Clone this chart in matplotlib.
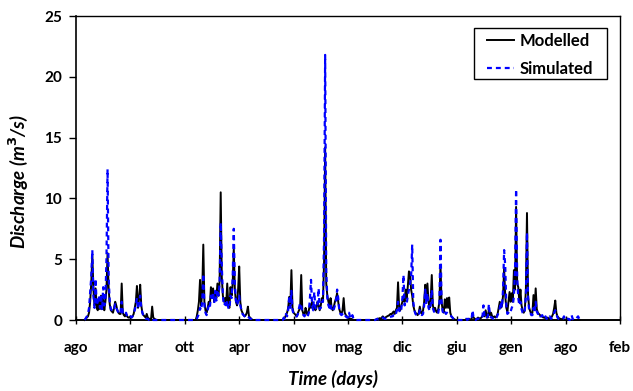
import numpy as np
import matplotlib
matplotlib.use("Agg")
import matplotlib.pyplot as plt
from matplotlib.patches import Rectangle

# x axis: days since start of record, one label every 200 days
tick_days = [0, 200, 400, 600, 800, 1000, 1200, 1400, 1600, 1800, 2000]
tick_labels = ["ago", "mar", "ott", "apr", "nov", "mag", "dic", "giu", "gen", "ago", "feb"]
y_ticks = [0, 5, 10, 15, 20, 25]

# discharge (m3/s) sampled every 4 days through each wet season;
# flow is zero between the seasons
sample_step = 4
season_starts = [32, 440, 760, 1100, 1430]

modelled_s1 = [0, 0.1, 0.2, 0.3, 0.6, 1.5, 3.0, 5.35, 2.5, 1.2, 2.6, 1.0, 0.8, 1.8, 0.9, 2.0, 1.0,
               1.8, 0.8, 1.5, 2.5, 5.5, 2.6, 1.3, 0.8, 0.7, 0.6, 1.0, 1.5, 1.2, 0.8, 0.6, 0.5, 0.5,
               3.0, 0.6, 0.4, 0.3, 0.5, 0.3, 0.2, 0.2, 0.3, 0.2, 0.3, 0.5, 1.0, 1.5, 2.8, 1.0, 1.8,
               2.9, 1.2, 0.6, 0.4, 0.3, 0.2, 0.5, 0.2, 0.1, 0.1, 0.1, 1.1, 0.2, 0.1, 0.05, 0.0]
simulated_s1 = [0, 0.15, 0.3, 0.5, 1.0, 2.2, 3.5, 5.75, 2.0, 1.0, 3.4, 1.2, 1.5, 2.0, 1.0, 2.1, 0.8,
                2.7, 1.2, 1.6, 5.0, 12.4, 3.5, 1.5, 0.9, 0.8, 0.7, 0.9, 1.3, 1.0, 0.8, 0.6, 0.6, 0.5,
                1.5, 0.6, 0.5, 0.4, 0.6, 0.3, 0.4, 0.3, 0.3, 0.2, 0.3, 0.6, 0.8, 1.2, 1.8, 0.9, 1.5,
                2.0, 1.0, 0.6, 0.3, 0.2, 0.1, 0.1, 0.1, 0.0, 0.0, 0.0, 0.1, 0.0, 0.0, 0.0, 0.0]

modelled_s2 = [0.0, 0.3, 0.8, 1.5, 3.3, 1.2, 2.3, 6.2, 1.5, 0.8, 0.6, 1.0, 1.5, 1.2, 2.7, 1.8, 2.6,
               1.5, 2.2, 1.8, 3.0, 2.0, 3.2, 10.5, 3.5, 2.0, 1.5, 1.8, 1.2, 3.0, 1.3, 1.0, 2.7, 2.0,
               3.0, 5.9, 2.5, 1.5, 1.2, 2.5, 4.4, 1.5, 0.8, 0.6, 0.4, 0.3, 0.4, 0.6, 1.1, 0.3, 0.2,
               0.1, 0.0]
simulated_s2 = [0.0, 0.1, 0.3, 0.5, 1.0, 0.8, 1.5, 3.8, 1.2, 0.6, 0.4, 0.8, 1.2, 1.0, 2.0, 1.6, 2.3,
                1.4, 2.4, 1.6, 2.5, 2.0, 3.0, 8.0, 4.5, 2.0, 1.2, 1.4, 1.0, 1.6, 1.0, 0.9, 2.0, 1.8,
                3.5, 7.5, 3.0, 1.6, 1.2, 1.5, 2.0, 1.2, 0.8, 0.5, 0.4, 0.3, 0.2, 0.2, 0.3, 0.2, 0.1,
                0.1, 0.0]

modelled_s3 = [0.0, 0.1, 0.2, 0.4, 0.6, 1.0, 1.9, 1.2, 4.1, 1.0, 0.6, 0.5, 0.4, 0.3, 0.6, 0.8, 1.0,
               3.7, 0.8, 0.5, 0.4, 1.0, 0.6, 0.4, 0.8, 1.3, 1.0, 1.5, 1.0, 1.2, 0.8, 1.0, 1.5, 1.2,
               0.8, 1.2, 1.8, 1.5, 4.8, 14.2, 3.0, 2.0, 1.5, 1.2, 1.8, 1.0, 0.8, 1.1, 1.5, 1.8, 2.2,
               1.5, 0.9, 0.6, 0.5, 0.8, 1.8, 0.6, 0.4, 0.3, 0.2, 0.1, 0.1, 0.1, 0.05, 0.0, 0.0]
simulated_s3 = [0.0, 0.2, 0.1, 0.5, 0.3, 0.8, 2.0, 1.0, 2.4, 0.8, 0.5, 0.4, 0.3, 0.3, 0.5, 1.0, 1.4,
                1.2, 0.6, 0.4, 0.3, 0.5, 0.4, 0.3, 0.6, 1.8, 3.3, 1.2, 0.8, 2.3, 1.0, 0.9, 1.2, 2.6,
                0.9, 1.0, 1.5, 1.5, 6.8, 21.8, 4.0, 1.8, 1.2, 1.0, 1.3, 0.8, 0.7, 0.9, 1.2, 1.6, 2.5,
                1.8, 0.8, 0.5, 0.4, 0.5, 0.6, 0.4, 0.3, 0.2, 0.2, 0.6, 0.2, 0.1, 0.4, 0.1, 0.0]

modelled_s4 = [0.0, 0.05, 0.1, 0.1, 0.15, 0.1, 0.2, 0.3, 0.2, 0.15, 0.25, 0.3, 0.35, 0.4, 0.5, 0.45,
               0.6, 0.7, 0.5, 0.8, 1.0, 3.1, 1.0, 0.8, 1.2, 1.5, 2.0, 1.5, 2.5, 1.8, 2.8, 4.0, 3.8,
               2.5, 2.0, 1.2, 0.8, 0.6, 0.5, 0.4, 0.6, 1.1, 0.6, 0.5, 0.8, 1.5, 2.9, 1.8, 3.0, 1.5,
               1.0, 1.7, 3.7, 1.2, 0.8, 1.0, 0.7, 0.6, 0.9, 1.5, 4.5, 1.5, 0.8, 0.6, 1.7, 1.0, 1.8,
               1.0, 1.85, 0.6, 0.3, 0.2, 0.1, 0.05, 0.0]
simulated_s4 = [0.0, 0.05, 0.1, 0.05, 0.1, 0.1, 0.1, 0.2, 0.15, 0.1, 0.1, 0.15, 0.2, 0.2, 0.25, 0.3,
                0.3, 0.4, 0.3, 0.5, 0.8, 1.5, 0.8, 0.6, 0.9, 1.8, 3.7, 1.2, 1.5, 1.4, 2.0, 2.5, 3.0,
                3.5, 6.2, 1.5, 0.8, 0.5, 0.4, 0.3, 0.4, 0.8, 0.5, 0.4, 0.5, 1.2, 2.5, 1.4, 2.2, 1.0,
                0.8, 1.2, 2.5, 1.0, 0.7, 0.6, 0.5, 0.5, 0.6, 1.2, 6.6, 1.5, 0.7, 0.5, 0.7, 0.5, 0.6,
                0.5, 0.5, 0.4, 0.3, 0.2, 0.1, 0.05, 0.0]

modelled_s5 = [0.0, 0.05, 0.1, 0.05, 0.1, 0.0, 0.1, 0.3, 0.2, 0.1, 0.05, 0.1, 0.2, 0.15, 0.1, 0.2,
               0.3, 0.5, 0.3, 0.8, 0.3, 0.2, 0.9, 0.4, 0.6, 0.3, 0.2, 0.3, 0.2, 0.3, 0.5, 1.0, 1.5,
               1.0, 1.2, 2.0, 4.25, 2.0, 1.0, 0.7, 1.5, 2.3, 1.5, 2.2, 1.5, 4.1, 2.5, 9.3, 3.0, 2.7,
               1.5, 2.5, 1.2, 0.8, 0.6, 0.8, 2.5, 8.8, 2.0, 1.0, 0.7, 0.5, 0.6, 2.05, 0.8, 2.6, 0.9,
               0.6, 0.5, 0.4, 0.3, 0.3, 0.2, 0.2, 0.15, 0.1, 0.2, 0.1, 0.1, 0.2, 0.3, 0.5, 1.0, 1.6,
               0.6, 0.3, 0.2, 0.1, 0.1, 0.05, 0.1, 0.05, 0.0, 0.05, 0.1, 0.05, 0.0, 0.0, 0.0, 0.0,
               0.0, 0.0, 0.0, 0.0, 0.0, 0.0]
simulated_s5 = [0.0, 0.1, 0.0, 0.1, 0.05, 0.0, 0.05, 0.8, 0.1, 0.05, 0.0, 0.1, 0.1, 0.1, 0.05, 0.1,
                0.2, 1.2, 0.3, 0.4, 0.2, 0.3, 1.3, 0.3, 0.2, 0.2, 0.1, 0.2, 0.1, 0.2, 0.4, 0.6, 1.0,
                1.5, 1.0, 2.5, 5.75, 4.5, 1.2, 0.5, 0.6, 0.8, 0.7, 1.0, 1.2, 2.0, 4.0, 10.75, 3.5,
                1.8, 1.2, 1.5, 0.9, 0.6, 0.5, 0.8, 2.0, 7.2, 1.8, 0.8, 0.6, 0.4, 0.4, 1.0, 0.6, 1.5,
                0.7, 0.5, 0.6, 0.3, 0.3, 0.4, 0.2, 0.1, 0.3, 0.1, 0.1, 0.05, 0.3, 0.1, 0.2, 0.3, 0.6,
                0.8, 0.5, 0.2, 0.1, 0.05, 0.1, 0.05, 0.1, 0.3, 0.0, 0.05, 0.1, 0.1, 0.0, 0.05, 0.4,
                0.1, 0.0, 0.0, 0.1, 0.2, 0.3, 0.1]

modelled_seasons = [modelled_s1, modelled_s2, modelled_s3, modelled_s4, modelled_s5]
simulated_seasons = [simulated_s1, simulated_s2, simulated_s3, simulated_s4, simulated_s5]


def build_series(seasons):
    days, flows = [], []
    for start, vals in zip(season_starts, seasons):
        days.extend(start + sample_step * np.arange(len(vals)))
        flows.extend(vals)
    return np.array(days), np.array(flows)


mod_days, mod_q = build_series(modelled_seasons)
sim_days, sim_q = build_series(simulated_seasons)

plt.rcParams["font.family"] = ["Lato", "DejaVu Sans"]
plt.rcParams["font.weight"] = "bold"

W, H = 633, 391
fig = plt.figure(figsize=(W / 100, H / 100), dpi=100)
ax_l, ax_r, ax_t, ax_b = 76, 620, 16, 320
ax = fig.add_axes([ax_l / W, 1 - ax_b / H, (ax_r - ax_l) / W, (ax_b - ax_t) / H])


def to_axes(px, py):
    """pixel position in the figure -> axes fraction"""
    return (px - ax_l) / (ax_r - ax_l), (ax_b - py) / (ax_b - ax_t)


ax.plot(mod_days, mod_q, color="black", lw=1.4, label="Modelled", zorder=3, clip_on=False)
ax.plot(sim_days, sim_q, color="#0000ff", lw=1.6, dashes=(2.2, 1.8), label="Simulated",
        zorder=4, clip_on=False)

ax.set_xlim(0, 2000)
ax.set_ylim(0, 25)
ax.set_xticks(tick_days)
ax.set_xticklabels(tick_labels)
ax.set_yticks(y_ticks)

for side in ["left", "right", "top", "bottom"]:
    ax.spines[side].set_color("black")
    ax.spines[side].set_linewidth(1.0)
ax.spines["bottom"].set_linewidth(1.4)
ax.spines["left"].set_linewidth(1.2)

ax.tick_params(axis="x", direction="inout", length=6, width=1, pad=12, labelsize=11)
ax.tick_params(axis="y", direction="out", length=5, width=1, pad=5, labelsize=11)
for lbl in ax.get_xticklabels() + ax.get_yticklabels():
    lbl.set_fontweight("bold")

ax.set_xlabel("Time (days)", fontsize=13.5, fontweight="bold", style="italic")
ax.set_ylabel("Discharge (m$^3$/s)", fontsize=13.5, fontweight="bold", style="italic")
ax.xaxis.set_label_coords(*to_axes(333, 370))
ax.yaxis.set_label_coords(*to_axes(31, 182))

# legend entries without frame, framed by a rectangle of fixed size
leg = ax.legend(loc="upper left", bbox_to_anchor=to_axes(487, 33), borderaxespad=0,
                borderpad=0, frameon=False, handlelength=1.6, handletextpad=0.35,
                labelspacing=0.72, prop={"weight": "bold", "size": 12})
leg.set_zorder(6)
x0, y0 = to_axes(474, 79)
x1, y1 = to_axes(607, 28)
ax.add_patch(Rectangle((x0, y0), x1 - x0, y1 - y0, transform=ax.transAxes,
                       facecolor="white", edgecolor="black", lw=1.0, zorder=5))

fig.savefig("out.png", dpi=100)
